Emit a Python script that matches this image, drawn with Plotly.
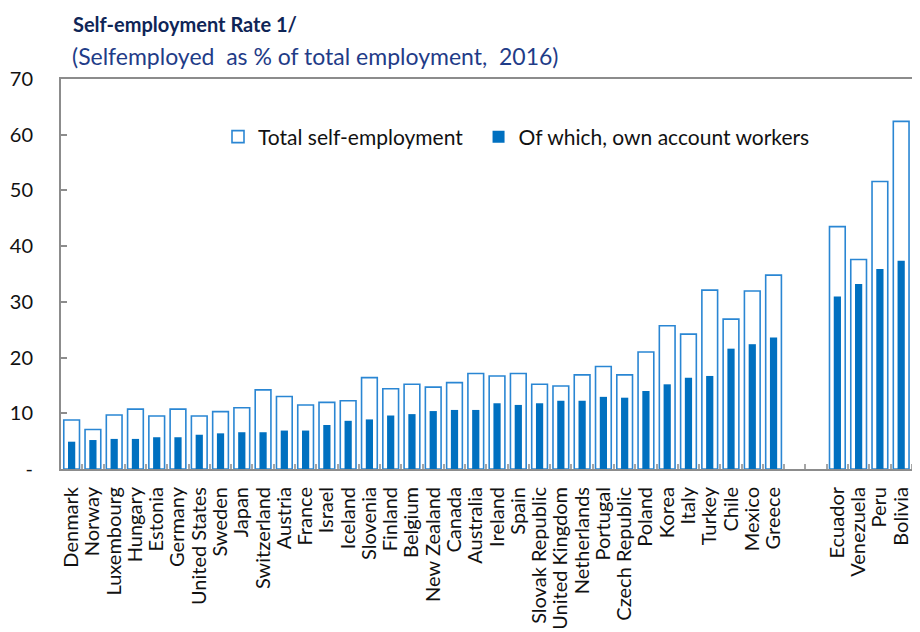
import plotly.graph_objects as go

countries = ["Denmark", "Norway", "Luxembourg", "Hungary", "Estonia", "Germany",
             "United States", "Sweden", "Japan", "Switzerland", "Austria", "France",
             "Israel", "Iceland", "Slovenia", "Finland", "Belgium", "New Zealand",
             "Canada", "Australia", "Ireland", "Spain", "Slovak Republic",
             "United Kingdom", "Netherlands", "Portugal", "Czech Republic", "Poland",
             "Korea", "Italy", "Turkey", "Chile", "Mexico", "Greece",
             " ", "  ",
             "Ecuador", "Venezuela", "Peru", "Bolivia", "Colombia"]

total_self_employment = [8.8, 7.1, 9.7, 10.75, 9.5, 10.75, 9.5, 10.3, 11.0, 14.2,
                         13.0, 11.5, 11.95, 12.25, 16.4, 14.4, 15.2, 14.7, 15.5, 17.15,
                         16.7, 17.15, 15.2, 14.9, 16.9, 18.4, 16.9, 21.0, 25.7, 24.2,
                         32.1, 26.9, 31.95, 34.8,
                         None, None,
                         43.5, 37.6, 51.6, 62.4, 50.8]

own_account_workers = [4.9, 5.2, 5.4, 5.4, 5.7, 5.7, 6.15, 6.4, 6.6, 6.6,
                       6.9, 6.9, 7.9, 8.65, 8.9, 9.6, 9.85, 10.4, 10.6, 10.6,
                       11.8, 11.5, 11.8, 12.25, 12.25, 12.95, 12.8, 14.0, 15.2, 16.4,
                       16.7, 21.6, 22.4, 23.6,
                       None, None,
                       30.95, 33.2, 35.9, 37.4, 42.8]

y_tick_values = [0, 10, 20, 30, 40, 50, 60, 70]
y_tick_labels = ["-", "10", "20", "30", "40", "50", "60", "70"]

FONT = "Lato"
BLUE = "#0070C0"
OUTLINE = "#2A86D3"
AXIS_GRAY = "#8c8c8c"

# page body has an 8px margin; plot area placed so it lands like the reference
L, T, B = 53, 71, 171
PW, PH = 920 - L, 632 - T - B

fig = go.Figure()
fig.add_trace(go.Bar(
    x=countries, y=total_self_employment, name="Total self-employment\u00a0\u00a0",
    marker=dict(color="white", line=dict(color=OUTLINE, width=1.6)),
    width=0.74,
))
fig.add_trace(go.Bar(
    x=countries, y=own_account_workers, name="Of which, own account workers",
    marker=dict(color=BLUE, line=dict(width=0)),
    width=0.34,
))

fig.update_layout(
    width=920, height=632,
    margin=dict(l=L, r=0, t=T, b=B, autoexpand=False),
    barmode="overlay",
    plot_bgcolor="white", paper_bgcolor="white",
    font=dict(family=FONT, size=20, color="#111111"),
    showlegend=True,
    legend=dict(
        orientation="h", x=(210 - L) / PW, y=(T + PH - 129) / PH,
        xanchor="left", yanchor="middle",
        bgcolor="rgba(0,0,0,0)", font=dict(family=FONT, size=21, color="#111111"),
        traceorder="normal",
    ),
    annotations=[
        dict(text="<b>Self-employment Rate 1/</b>", xref="paper", yref="paper",
             x=(63 - L) / PW, y=1 + (T - 16) / PH, xanchor="left", yanchor="middle",
             showarrow=False, font=dict(family=FONT, size=20, color="#0f2557")),
        dict(text="(Selfemployed  as % of total employment,  2016)", xref="paper", yref="paper",
             x=(62 - L) / PW, y=1 + (T - 48) / PH, xanchor="left", yanchor="middle",
             showarrow=False, font=dict(family=FONT, size=23, color="#1f3c88")),
    ],
)

fig.update_xaxes(
    type="category", range=[-0.5, PW / 21.27 - 0.5], autorange=False,
    tickmode="linear", tick0=0, dtick=1,
    showline=True, linecolor=AXIS_GRAY, linewidth=2, mirror=True,
    ticks="inside", tickson="boundaries", ticklen=5, tickwidth=2, tickcolor="#a6a6a6",
    tickangle=-90, tickfont=dict(family=FONT, size=20, color="#111111"),
    ticklabelstandoff=8,
    showgrid=False, zeroline=False, automargin=False,
)
fig.update_yaxes(
    range=[0, 70], autorange=False,
    tickvals=y_tick_values, ticktext=y_tick_labels,
    showline=True, linecolor=AXIS_GRAY, linewidth=2,
    ticks="inside", ticklen=6, tickwidth=1.5, tickcolor=AXIS_GRAY,
    tickfont=dict(family=FONT, size=20, color="#111111"),
    ticklabelstandoff=22,
    showgrid=False, zeroline=False, automargin=False,
)

fig.write_html("out.html")
